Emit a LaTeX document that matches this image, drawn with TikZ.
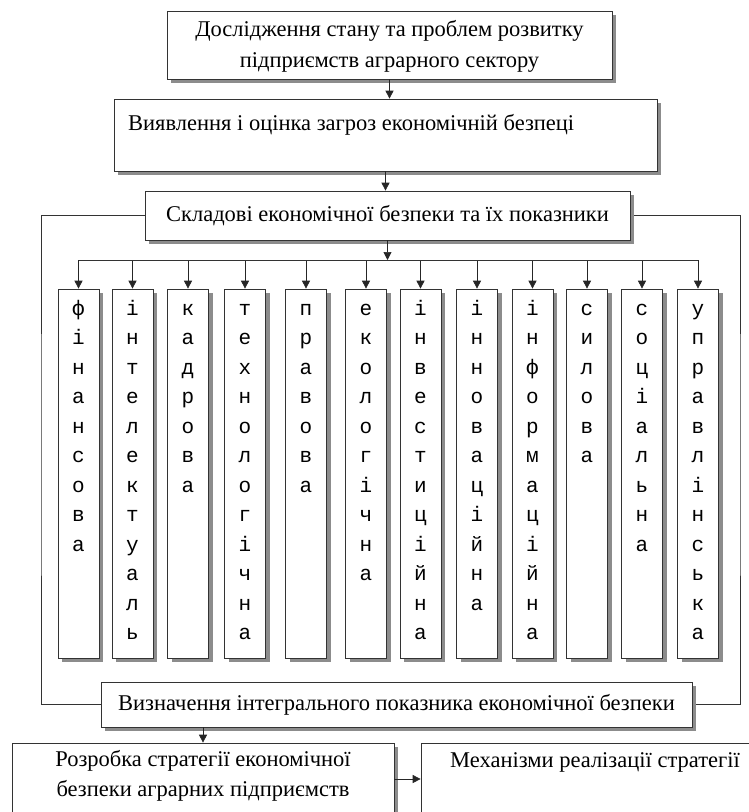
\documentclass[tikz,border=0pt]{standalone}
\usepackage{fontspec}
\setmainfont{Liberation Serif}
\newfontfamily\colmono{Liberation Mono}
\usetikzlibrary{arrows.meta,shadows}
\begin{document}
\begin{tikzpicture}[x=1pt,y=-1pt,
  shadowed/.style={drop shadow={shadow xshift=4pt, shadow yshift=-4pt, fill=black!45, opacity=1}},
  plainbox/.style={draw=black!80, line width=0.7pt, fill=white, inner sep=0pt},
  box/.style={plainbox, shadowed},
  txt/.style={font=\fontsize{22.5}{31.5}\selectfont, inner sep=0pt, align=center},
  letter/.style={font=\colmono\fontsize{21}{24}\selectfont, inner sep=0pt, anchor=base},
  arr/.style={-{Triangle[width=8pt,length=8pt]}, line width=0.7pt, draw=black!85},
  ln/.style={line width=0.7pt, draw=black!80}]
\useasboundingbox (0,0) rectangle (749,812);
\clip (0,0) rectangle (749,812);
\fill[white] (0,0) rectangle (749,812);

% frame coordinates
\coordinate (fl) at (41,450);
\coordinate (fr) at (740,450);
\coordinate (dist) at (386,260);
\coordinate (a5) at (394,779);

% main boxes
\node[box, minimum width=445, minimum height=68] (b1) at (389.5,45) {};
\node[txt] (t1) at (389.5,46.5)
  {Дослідження стану та проблем розвитку\\підприємств аграрного сектору};
\node[box, minimum width=543, minimum height=72] (b2) at (385.5,135) {};
\node[txt, anchor=west] (t2) at (128,125) {Виявлення і оцінка загроз економічній безпеці};

% frame (behind boxes 3 and 4)
\draw[ln] (387.5,215.5) -| (fl) |- (396.5,704.5);
\draw[ln] (387.5,215.5) -| (fr) |- (396.5,704.5);

\node[box, txt, minimum width=485, minimum height=49] (b3) at (387.5,215.5)
  {Складові економічної безпеки та їх показники};
\node[box, txt, minimum width=591, minimum height=45] (b4) at (396.5,704.5)
  {Визначення інтегрального показника економічної безпеки};
\node[box, minimum width=382, minimum height=97] (b5) at (203,791.5) {};
\node[txt, align=center, font=\fontsize{22.5}{29.5}\selectfont] (t5) at (203,776)
  {Розробка стратегії економічної\\безпеки аграрних підприємств};
\node[plainbox, minimum width=349, minimum height=97] (b6) at (595.5,791.5) {};
\node[txt, anchor=west] (t6) at (450,762) {Механізми реалізації стратегії};

% arrows between main boxes
\draw[arr] (b1.south) -- (b1.south |- b2.north);
\draw[arr] (b2.south) -- (b2.south |- b3.north);
\draw[arr] (b3.south) -- (b3.south |- dist);
\draw[arr] (b5.north |- b4.south) -- (b5.north);
\draw[arr] (b5.east |- a5) -- (b6.west |- a5);

% columns
\foreach \cx/\w [count=\c] in {
  78.5/{ф,і,н,а,н,с,о,в,а},
  132.5/{і,н,т,е,л,е,к,т,у,а,л,ь},
  188/{к,а,д,р,о,в,а},
  245/{т,е,х,н,о,л,о,г,і,ч,н,а},
  306/{п,р,а,в,о,в,а},
  366/{е,к,о,л,о,г,і,ч,н,а},
  420.5/{і,н,в,е,с,т,и,ц,і,й,н,а},
  477/{і,н,н,о,в,а,ц,і,й,н,а},
  532.5/{і,н,ф,о,р,м,а,ц,і,й,н,а},
  587/{с,и,л,о,в,а},
  642/{с,о,ц,і,а,л,ь,н,а},
  698/{у,п,р,а,в,л,і,н,с,ь,к,а}}{
  \node[box, minimum width=41, minimum height=369] (c\c) at (\cx,473.5) {};
  \foreach \l [count=\i] in \w {
    \node[letter] (c\c-\i) at (\cx,{315+29.5*(\i-1)}) {\l};
  }
  \draw[arr] (c\c.north |- dist) -- (c\c.north);
}
\draw[ln] (c1.north |- dist) -- (c12.north |- dist);
\end{tikzpicture}
\end{document}
